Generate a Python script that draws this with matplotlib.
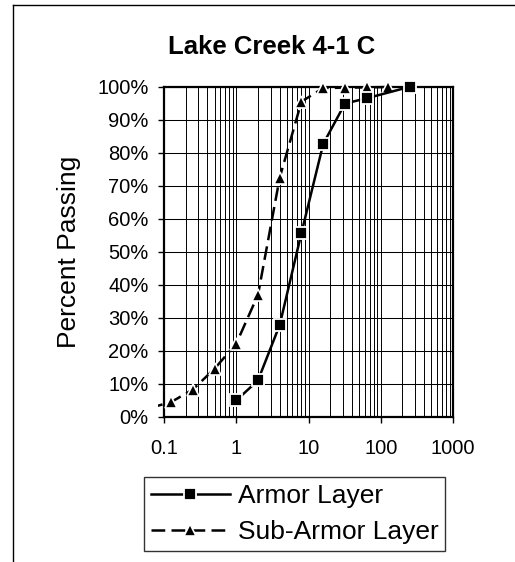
import matplotlib
matplotlib.use("Agg")
import matplotlib.pyplot as plt
from matplotlib.lines import Line2D
from matplotlib.transforms import Bbox, TransformedBbox
from matplotlib.ticker import FixedLocator, FuncFormatter

plt.rcParams['font.family'] = ['Liberation Sans', 'DejaVu Sans']

title = "Lake Creek 4-1 C"
ylabel = "Percent Passing"

armor_size = [1, 2, 4, 8, 16, 32, 64, 256]
armor_pct = [5.0, 11.1, 27.9, 55.8, 82.7, 94.9, 96.5, 100.0]

sub_size = [0.0625, 0.125, 0.25, 0.5, 1, 2, 4, 8, 16, 32, 64, 128]
sub_pct = [2.7, 4.5, 8.3, 14.6, 22.2, 37.0, 72.5, 95.5, 99.6, 99.7, 99.8, 99.9]

x_ticks = [0.1, 1, 10, 100, 1000]
x_tick_labels = ["0.1", "1", "10", "100", "1000"]
y_ticks = [0, 10, 20, 30, 40, 50, 60, 70, 80, 90, 100]

W, H = 515, 562
fig = plt.figure(figsize=(W / 100, H / 100), dpi=100)
ax_l, ax_r, ax_t, ax_b = 164, 453, 86.7, 417
ax = fig.add_axes([ax_l / W, 1 - ax_b / H, (ax_r - ax_l) / W, (ax_b - ax_t) / H])

ax.set_xscale('log')
ax.set_xlim(0.1, 1000)
ax.set_ylim(0, 100)

# grid lines
minor = [m * 10.0 ** e for e in range(-1, 3) for m in range(2, 10)]
for v in minor + x_ticks:
    ax.axvline(v, color='black', lw=0.7, zorder=1)
for v in y_ticks:
    ax.axhline(v, color='black', lw=0.75, zorder=1)

ax.xaxis.set_major_locator(FixedLocator(x_ticks))
ax.xaxis.set_minor_locator(FixedLocator([]))
ax.set_xticklabels(x_tick_labels)
ax.yaxis.set_major_locator(FixedLocator(y_ticks))
ax.yaxis.set_major_formatter(FuncFormatter(lambda v, p: f"{int(v)}%"))
ax.tick_params(axis='both', direction='out', length=4, width=1, labelsize=14.5, colors='black')
ax.tick_params(axis='x', pad=12)
ax.tick_params(axis='y', pad=7)
for s in ax.spines.values():
    s.set_linewidth(1.6)
    s.set_zorder(3)

l1, = ax.plot(armor_size, armor_pct, color='black', lw=1.8, marker='s', markersize=8.6,
              mfc='black', mec='white', mew=1.3, label='Armor Layer', zorder=5)
l2, = ax.plot(sub_size, sub_pct, color='black', lw=1.8, linestyle=(0, (5.5, 2.5)), marker='^',
              markersize=8.5, mfc='black', mec='white', mew=1.2, label='Sub-Armor Layer', zorder=4)

aw, ah = ax_r - ax_l, ax_b - ax_t
clip = TransformedBbox(Bbox.from_extents(-6 / aw, -0.05, 1.03, 1 + 10 / ah), ax.transAxes)
for ln in (l1, l2):
    ln.set_clip_box(clip)

fig.text(272 / W, 1 - 47 / H, title, ha='center', va='center', fontsize=18.5, fontweight='bold')
fig.text(69 / W, 1 - 252 / H, ylabel, ha='center', va='center', rotation=90, fontsize=19)

leg = fig.legend(handles=[l1, l2], loc='center', bbox_to_anchor=((143 + 446) / 2 / W, 1 - 514 / H),
                 fontsize=19, frameon=True, fancybox=False, numpoints=1, handlelength=3.0,
                 handletextpad=0.3, labelspacing=0.45, borderpad=0.25, borderaxespad=0)
leg.get_frame().set_edgecolor('black')
leg.get_frame().set_linewidth(1.0)

# outer chart border
fig.add_artist(Line2D([13 / W, 1.0], [1 - 5 / H, 1 - 5 / H], transform=fig.transFigure, color='black', lw=1))
fig.add_artist(Line2D([13 / W, 13 / W], [1 - 5 / H, 0.0], transform=fig.transFigure, color='black', lw=1))

fig.savefig("out.png", dpi=100)
